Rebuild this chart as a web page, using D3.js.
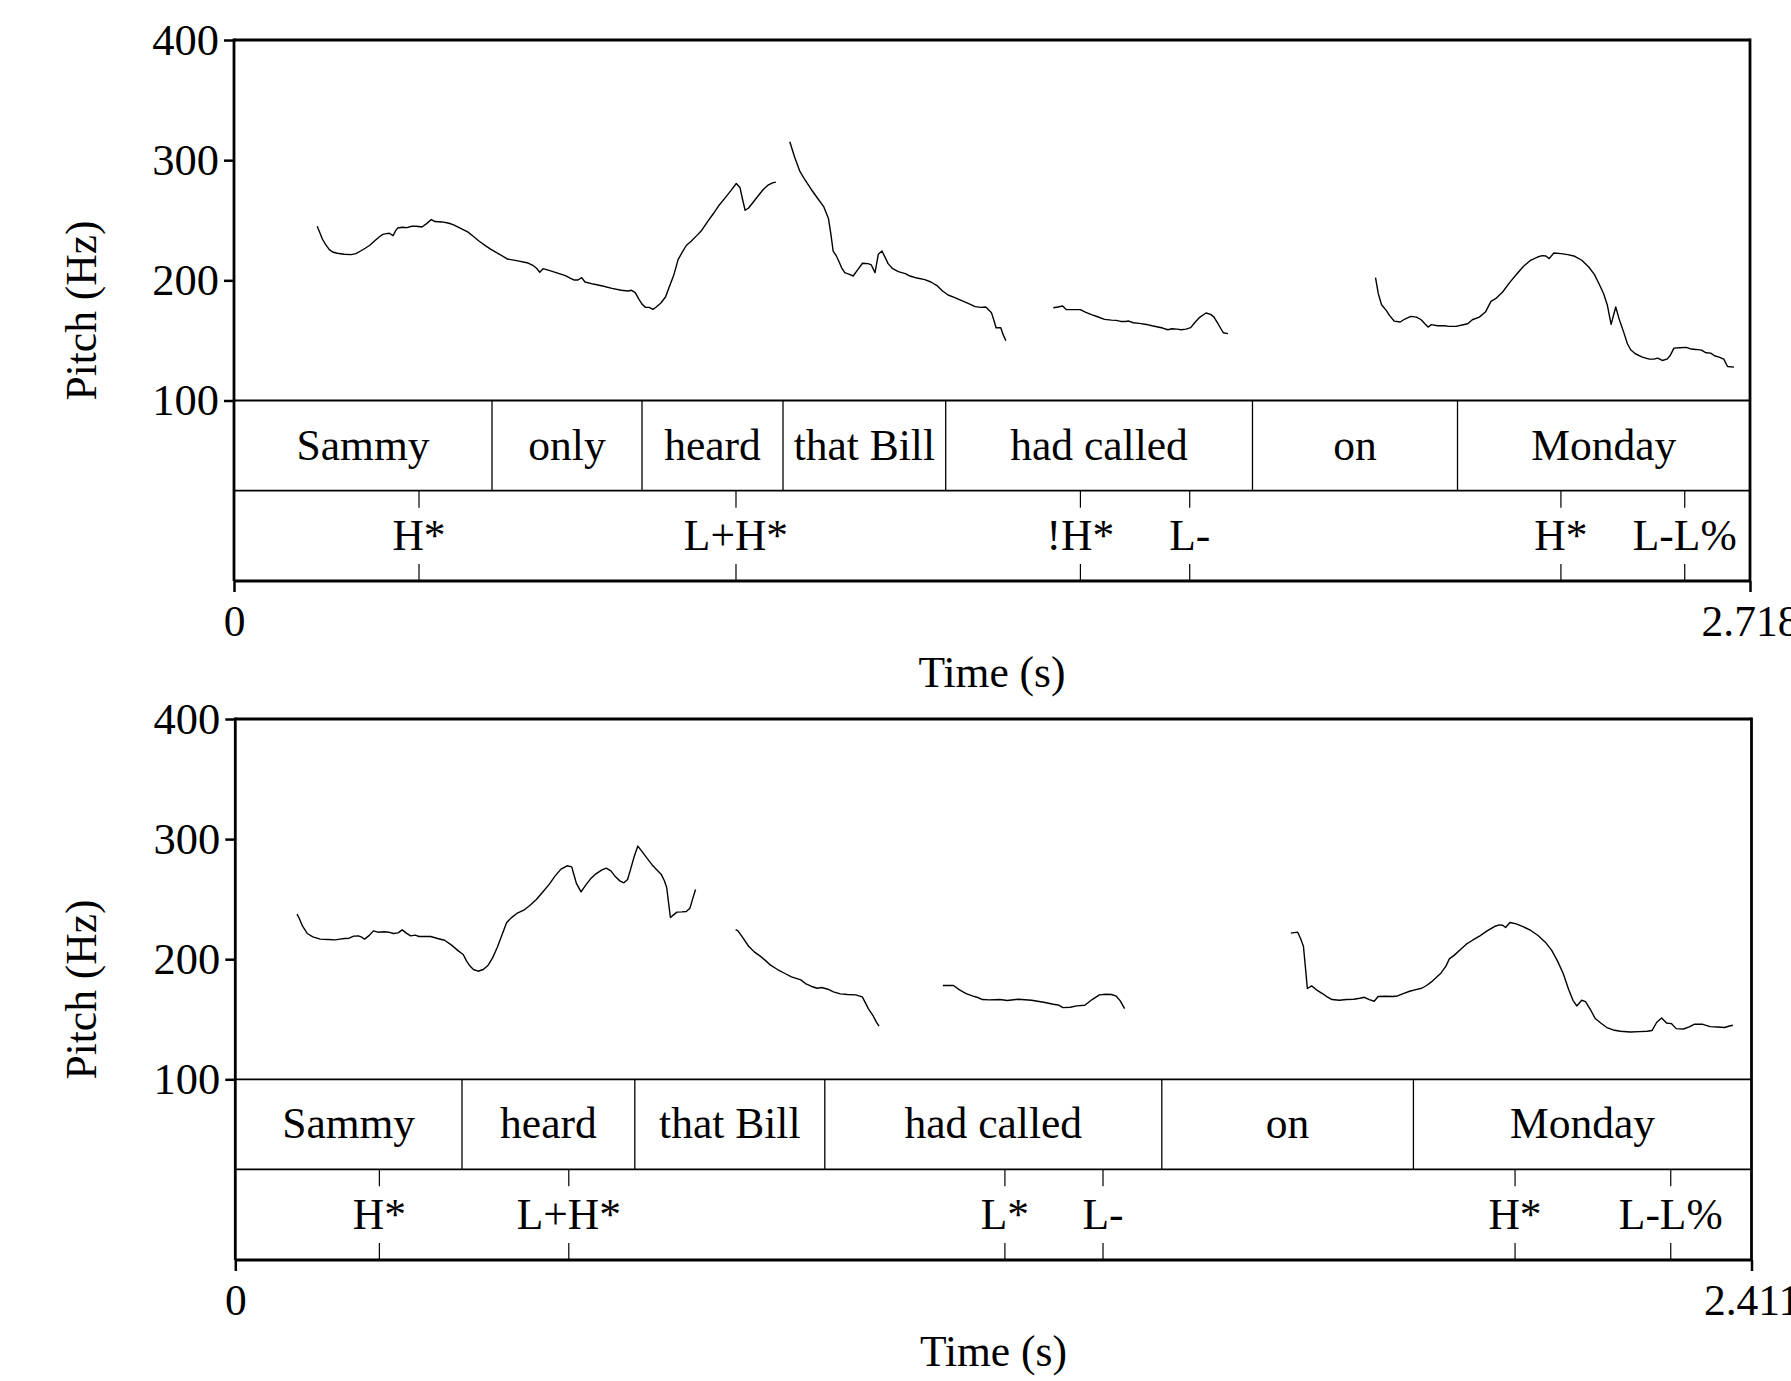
<!DOCTYPE html>
<html><head><meta charset="utf-8">
<script src="https://cdn.jsdelivr.net/npm/d3@7"></script>
<style>
html,body{margin:0;padding:0;background:#fff;}
svg{display:block;}
text{font-family:"Liberation Serif","Times New Roman",Times,serif;fill:#000;}
</style>
</head><body>
<svg id="chart" width="1791" height="1381"></svg>
<script>
// ---------- Data: panel 1 ("Sammy only heard that Bill had called on Monday") ----------
const topDuration = 2.718;
const topWords = ["Sammy","only","heard","that Bill","had called","on","Monday"];
const topWordBounds = [0, 0.4626, 0.7315, 0.9843, 1.276, 1.826, 2.1936, 2.718];
const topTones = ["H*","L+H*","!H*","L-","H*","L-L%"];
const topToneTimes = [0.3317, 0.900, 1.5175, 1.7135, 2.379, 2.601];

const topPitch1 = [[0.1492,245.0],[0.1534,240.3],[0.1584,234.4],[0.1642,230.0],[0.1709,225.6],[0.1768,223.6],[0.1851,222.5],[0.1976,221.7],[0.2102,221.4],[0.2185,222.2],[0.2269,224.4],[0.2352,226.7],[0.2435,229.2],[0.2519,232.8],[0.2602,236.1],[0.2669,238.3],[0.2728,238.9],[0.2786,239.2],[0.2853,237.2],[0.2895,241.1],[0.2936,243.6],[0.3020,244.2],[0.3103,243.9],[0.3187,245.0],[0.3270,245.0],[0.3370,244.4],[0.3454,247.2],[0.3537,250.6],[0.3604,248.9],[0.3729,248.6],[0.3855,247.5],[0.3938,246.1],[0.4063,243.3],[0.4189,240.3],[0.4289,236.7],[0.4397,232.5],[0.4506,228.9],[0.4606,225.8],[0.4731,222.5],[0.4898,217.8],[0.5065,216.4],[0.5274,214.4],[0.5357,212.5],[0.5424,210.0],[0.5482,206.7],[0.5541,209.7],[0.5649,208.3],[0.5775,206.4],[0.5942,203.9],[0.6025,201.9],[0.6092,200.3],[0.6167,200.3],[0.6234,202.2],[0.6292,198.6],[0.6442,196.9],[0.6609,195.3],[0.6776,193.3],[0.6943,191.7],[0.7068,191.1],[0.7127,191.7],[0.7194,189.7],[0.7261,184.2],[0.7319,180.0],[0.7378,177.5],[0.7444,177.5],[0.7511,175.8],[0.7570,177.8],[0.7653,181.1],[0.7736,186.1],[0.7803,194.4],[0.7887,204.7],[0.7962,217.2],[0.8029,222.8],[0.8112,229.2],[0.8196,232.5],[0.8296,237.2],[0.8387,241.7],[0.8488,248.6],[0.8596,255.6],[0.8697,262.5],[0.8805,268.6],[0.8905,274.4],[0.9005,280.6],[0.9072,277.2],[0.9114,268.1],[0.9164,258.3],[0.9222,260.0],[0.9322,265.8],[0.9406,270.8],[0.9489,275.6],[0.9573,279.2],[0.9656,281.1],[0.9715,281.7]];
const topPitch2 = [[0.9965,315.3],[1.0049,302.8],[1.0141,291.1],[1.0241,283.3],[1.0350,275.6],[1.0466,268.1],[1.0575,261.1],[1.0658,251.4],[1.0700,238.9],[1.0742,224.4],[1.0800,220.3],[1.0850,215.3],[1.0892,210.6],[1.0950,206.4],[1.1034,205.0],[1.1101,203.6],[1.1184,208.9],[1.1268,214.2],[1.1368,213.9],[1.1426,212.8],[1.1493,206.4],[1.1551,221.7],[1.1618,224.4],[1.1685,218.1],[1.1727,213.9],[1.1802,210.0],[1.1910,207.2],[1.2036,205.6],[1.2119,203.6],[1.2244,201.9],[1.2386,200.6],[1.2495,198.6],[1.2603,195.6],[1.2703,191.1],[1.2803,187.8],[1.2912,185.8],[1.3037,183.3],[1.3162,180.8],[1.3288,178.1],[1.3388,177.5],[1.3480,177.8],[1.3580,173.1],[1.3621,167.2],[1.3663,160.6],[1.3747,160.6],[1.3788,155.0],[1.3839,149.7]];
const topPitch3 = [[1.4689,177.2],[1.4772,177.8],[1.4856,178.6],[1.4923,175.6],[1.5023,175.6],[1.5173,175.6],[1.5273,173.3],[1.5373,171.4],[1.5482,169.7],[1.5607,167.5],[1.5732,166.9],[1.5816,166.7],[1.5899,165.8],[1.5983,165.8],[1.6041,166.1],[1.6125,164.7],[1.6233,164.2],[1.6358,163.3],[1.6459,162.2],[1.6542,161.4],[1.6651,160.3],[1.6742,158.9],[1.6818,159.7],[1.6901,159.4],[1.6985,158.9],[1.7068,159.4],[1.7152,160.6],[1.7235,165.3],[1.7319,169.4],[1.7427,172.8],[1.7511,171.7],[1.7570,169.4],[1.7636,164.4],[1.7694,159.7],[1.7736,156.4],[1.7820,155.6]];
const topPitch4 = [[2.0466,202.2],[2.0516,188.9],[2.0574,179.7],[2.0658,175.0],[2.0716,170.8],[2.0800,166.1],[2.0908,165.3],[2.0992,167.8],[2.1100,170.0],[2.1200,169.4],[2.1284,167.2],[2.1351,163.9],[2.1409,161.1],[2.1467,163.1],[2.1576,162.2],[2.1701,162.2],[2.1785,161.7],[2.1910,161.7],[2.2018,162.8],[2.2118,163.9],[2.2202,167.2],[2.2327,169.4],[2.2436,173.6],[2.2536,182.5],[2.2619,184.7],[2.2745,190.3],[2.2870,198.1],[2.2995,205.0],[2.3120,211.7],[2.3246,216.7],[2.3371,219.4],[2.3454,220.6],[2.3521,220.3],[2.3580,218.1],[2.3663,222.8],[2.3788,222.2],[2.3914,221.4],[2.4039,220.0],[2.4164,216.7],[2.4289,211.1],[2.4389,205.0],[2.4473,197.2],[2.4556,188.9],[2.4623,179.2],[2.4690,163.3],[2.4773,177.8],[2.4832,168.1],[2.4915,156.9],[2.4982,147.2],[2.5040,142.2],[2.5124,138.9],[2.5249,136.1],[2.5374,134.4],[2.5458,134.4],[2.5525,135.3],[2.5608,133.3],[2.5692,134.4],[2.5750,137.5],[2.5817,143.6],[2.5917,143.9],[2.6042,144.2],[2.6126,142.8],[2.6209,142.5],[2.6309,141.9],[2.6393,139.7],[2.6476,139.4],[2.6543,137.2],[2.6626,136.1],[2.6710,134.4],[2.6777,128.3],[2.6894,127.8]];

// ---------- Data: panel 2 ("Sammy heard that Bill had called on Monday") ----------
const botDuration = 2.411;
const botWords = ["Sammy","heard","that Bill","had called","on","Monday"];
const botWordBounds = [0, 0.3605, 0.6353, 0.9374, 1.4733, 1.8734, 2.411];
const botTones = ["H*","L+H*","L*","L-","H*","L-L%"];
const botToneTimes = [0.2291, 0.5303, 1.2238, 1.3798, 2.035, 2.2826];

const botPitch1 = [[0.0981,237.5],[0.1018,233.9],[0.1070,227.5],[0.1144,221.4],[0.1233,218.6],[0.1351,216.7],[0.1477,216.4],[0.1588,216.1],[0.1662,216.7],[0.1736,217.2],[0.1810,217.5],[0.1884,219.2],[0.1959,219.4],[0.2018,218.1],[0.2055,216.7],[0.2121,219.4],[0.2196,223.6],[0.2270,222.5],[0.2366,222.8],[0.2440,222.5],[0.2514,221.4],[0.2588,221.9],[0.2655,224.4],[0.2714,221.9],[0.2788,219.4],[0.2862,220.0],[0.2921,218.9],[0.3010,218.9],[0.3106,218.9],[0.3217,217.2],[0.3328,215.8],[0.3439,211.7],[0.3551,206.7],[0.3624,203.9],[0.3676,198.6],[0.3721,195.0],[0.3787,191.4],[0.3861,190.0],[0.3943,191.4],[0.4017,194.7],[0.4091,201.1],[0.4165,209.7],[0.4239,220.0],[0.4313,230.3],[0.4387,234.4],[0.4476,238.1],[0.4587,240.8],[0.4683,244.7],[0.4787,249.7],[0.4883,255.6],[0.4994,262.5],[0.5083,269.2],[0.5179,275.0],[0.5276,277.8],[0.5350,276.9],[0.5379,271.4],[0.5424,263.1],[0.5498,256.1],[0.5572,261.7],[0.5646,266.7],[0.5735,271.1],[0.5824,274.2],[0.5898,275.8],[0.5972,273.6],[0.6046,268.6],[0.6120,265.0],[0.6179,263.6],[0.6238,266.4],[0.6290,275.6],[0.6342,285.3],[0.6401,294.2],[0.6475,289.2],[0.6549,283.9],[0.6623,278.9],[0.6697,274.7],[0.6771,270.8],[0.6823,265.3],[0.6860,259.7],[0.6890,246.9],[0.6919,234.7],[0.6964,236.7],[0.7023,239.2],[0.7104,239.4],[0.7171,239.7],[0.7230,242.5],[0.7275,250.6],[0.7319,258.1]];
const botPitch2 = [[0.7956,224.7],[0.7993,223.6],[0.8067,218.1],[0.8163,210.8],[0.8252,206.1],[0.8363,201.9],[0.8437,198.6],[0.8511,195.0],[0.8622,191.4],[0.8733,188.3],[0.8844,185.3],[0.8993,182.8],[0.9066,179.7],[0.9155,177.5],[0.9252,175.8],[0.9326,176.4],[0.9422,175.0],[0.9511,172.8],[0.9622,171.1],[0.9733,170.6],[0.9866,170.3],[0.9970,168.6],[1.0014,164.2],[1.0066,158.9],[1.0140,153.1],[1.0192,147.8],[1.0236,144.2]];
const botPitch3 = [[1.1251,178.1],[1.1421,178.1],[1.1510,174.7],[1.1621,171.4],[1.1732,169.2],[1.1806,168.1],[1.1880,166.4],[1.1991,166.1],[1.2160,166.4],[1.2276,165.6],[1.2453,166.7],[1.2661,165.8],[1.2854,164.2],[1.3008,162.5],[1.3085,161.9],[1.3162,159.7],[1.3278,160.0],[1.3378,161.1],[1.3509,161.7],[1.3625,166.4],[1.3740,170.3],[1.3841,170.8],[1.3933,170.6],[1.4010,169.2],[1.4072,165.3],[1.4141,158.9]];
const botPitch4 = [[1.6785,221.7],[1.6893,222.5],[1.6939,217.2],[1.6985,210.8],[1.7016,193.6],[1.7047,175.6],[1.7116,177.8],[1.7186,174.7],[1.7286,171.4],[1.7363,168.6],[1.7440,166.4],[1.7556,165.8],[1.7671,166.4],[1.7787,166.7],[1.7879,167.5],[1.7956,168.3],[1.8033,166.4],[1.8111,165.0],[1.8172,168.9],[1.8288,169.2],[1.8403,168.9],[1.8480,169.4],[1.8573,171.4],[1.8673,173.3],[1.8774,174.7],[1.8866,175.8],[1.8943,178.1],[1.9020,181.1],[1.9097,184.7],[1.9174,188.6],[1.9251,194.2],[1.9305,200.3],[1.9390,203.6],[1.9483,208.1],[1.9575,212.5],[1.9675,215.8],[1.9791,219.4],[1.9906,223.6],[2.0022,227.2],[2.0099,228.6],[2.0153,228.3],[2.0200,226.4],[2.0269,230.6],[2.0369,229.4],[2.0485,226.9],[2.0600,223.9],[2.0716,219.7],[2.0831,214.2],[2.0931,207.5],[2.1024,198.6],[2.1116,188.1],[2.1201,175.0],[2.1271,165.8],[2.1332,161.1],[2.1410,165.8],[2.1471,164.7],[2.1548,158.1],[2.1625,150.6],[2.1718,146.7],[2.1810,143.1],[2.1910,141.1],[2.2026,140.0],[2.2180,139.4],[2.2334,139.7],[2.2450,140.0],[2.2527,140.6],[2.2604,147.5],[2.2681,151.1],[2.2758,146.9],[2.2835,146.4],[2.2912,142.2],[2.3028,141.9],[2.3120,143.6],[2.3197,145.8],[2.3336,145.8],[2.3452,143.9],[2.3568,143.6],[2.3683,143.1],[2.3760,144.4],[2.3814,145.0]];

const pitchTicks = [100, 200, 300, 400];

// ---------- Drawing ----------
const svg = d3.select("#chart");
const FS = 43.5;

function drawPanel(cfg) {
  const g = svg.append("g");
  const x = d3.scaleLinear().domain([0, cfg.duration]).range([cfg.x0, cfg.x1]);
  const y = d3.scaleLinear().domain([100, 400]).range([cfg.yP, cfg.yTop]);

  // pitch contours
  const line = d3.line().x(d => x(d[0])).y(d => y(d[1]));
  cfg.segments.forEach(seg => {
    g.append("path").attr("d", line(seg))
      .attr("fill", "none").attr("stroke", "#000")
      .attr("stroke-width", 1.4).attr("stroke-linejoin", "round");
  });

  // y axis (ticks + labels)
  const yAxis = d3.axisLeft(y).tickValues(pitchTicks).tickSize(10).tickPadding(5).tickFormat(d3.format("d"));
  const ya = g.append("g").attr("transform", `translate(${cfg.x0},0)`).call(yAxis);
  ya.select(".domain").remove();
  ya.selectAll(".tick line").attr("stroke", "#000").attr("stroke-width", 2.5);
  ya.selectAll(".tick text").attr("font-size", 44.5).attr("font-family", "Liberation Serif, Times New Roman, serif").attr("fill", "#000");

  // x axis (0 and duration)
  const xAxis = d3.axisBottom(x).tickValues([0, cfg.duration]).tickSize(11).tickPadding(13)
    .tickFormat(d => d === 0 ? "0" : String(cfg.duration));
  const xa = g.append("g").attr("transform", `translate(0,${cfg.yB})`).call(xAxis);
  xa.select(".domain").remove();
  xa.selectAll(".tick line").attr("stroke", "#000").attr("stroke-width", 2.5);
  xa.selectAll(".tick text").attr("font-size", FS).attr("font-family", "Liberation Serif, Times New Roman, serif").attr("fill", "#000");

  // word tier
  const wordMid = (cfg.yP + cfg.yT) / 2;
  cfg.wordBounds.slice(1, -1).forEach(b => {
    g.append("line").attr("x1", x(b)).attr("x2", x(b)).attr("y1", cfg.yP).attr("y2", cfg.yT)
      .attr("stroke", "#000").attr("stroke-width", 1.3);
  });
  cfg.words.forEach((w, i) => {
    const cx = (x(cfg.wordBounds[i]) + x(cfg.wordBounds[i + 1])) / 2;
    g.append("text").attr("x", cx).attr("y", wordMid + 14).attr("text-anchor", "middle")
      .attr("font-size", FS).text(w);
  });

  // tone tier
  const toneMid = (cfg.yT + cfg.yB) / 2;
  cfg.toneTimes.forEach((t, i) => {
    const tx = x(t);
    g.append("line").attr("x1", tx).attr("x2", tx).attr("y1", cfg.yT).attr("y2", cfg.yT + 17)
      .attr("stroke", "#000").attr("stroke-width", 1.2);
    g.append("line").attr("x1", tx).attr("x2", tx).attr("y1", cfg.yB - 17).attr("y2", cfg.yB)
      .attr("stroke", "#000").attr("stroke-width", 1.2);
    g.append("text").attr("x", tx).attr("y", toneMid + 14).attr("text-anchor", "middle")
      .attr("font-size", FS).text(cfg.tones[i]);
  });

  // frame
  const thick = 2.8, mid = 1.8;
  g.append("line").attr("x1", cfg.x0).attr("x2", cfg.x1).attr("y1", cfg.yTop).attr("y2", cfg.yTop).attr("stroke", "#000").attr("stroke-width", thick);
  g.append("line").attr("x1", cfg.x0).attr("x2", cfg.x1).attr("y1", cfg.yP).attr("y2", cfg.yP).attr("stroke", "#000").attr("stroke-width", mid);
  g.append("line").attr("x1", cfg.x0).attr("x2", cfg.x1).attr("y1", cfg.yT).attr("y2", cfg.yT).attr("stroke", "#000").attr("stroke-width", mid);
  g.append("line").attr("x1", cfg.x0).attr("x2", cfg.x1).attr("y1", cfg.yB).attr("y2", cfg.yB).attr("stroke", "#000").attr("stroke-width", 3.2);
  g.append("line").attr("x1", cfg.x0).attr("x2", cfg.x0).attr("y1", cfg.yTop - 1.4).attr("y2", cfg.yB).attr("stroke", "#000").attr("stroke-width", thick);
  g.append("line").attr("x1", cfg.x1).attr("x2", cfg.x1).attr("y1", cfg.yTop - 1.4).attr("y2", cfg.yB).attr("stroke", "#000").attr("stroke-width", thick);

  // axis titles
  g.append("text").attr("x", (cfg.x0 + cfg.x1) / 2).attr("y", cfg.yB + 106).attr("text-anchor", "middle")
    .attr("font-size", FS).text("Time (s)");
  const cy = (cfg.yTop + cfg.yB) / 2;
  g.append("text").attr("transform", `translate(96,${cy}) rotate(-90)`).attr("text-anchor", "middle")
    .attr("font-size", FS).text("Pitch (Hz)");
}

drawPanel({
  duration: topDuration, x0: 234, x1: 1750, yTop: 40, yP: 400.5, yT: 490.7, yB: 581,
  segments: [topPitch1, topPitch2, topPitch3, topPitch4],
  words: topWords, wordBounds: topWordBounds, tones: topTones, toneTimes: topToneTimes
});
drawPanel({
  duration: botDuration, x0: 235.3, x1: 1751.5, yTop: 719, yP: 1079.3, yT: 1169.3, yB: 1260,
  segments: [botPitch1, botPitch2, botPitch3, botPitch4],
  words: botWords, wordBounds: botWordBounds, tones: botTones, toneTimes: botToneTimes
});
</script>
</body></html>
